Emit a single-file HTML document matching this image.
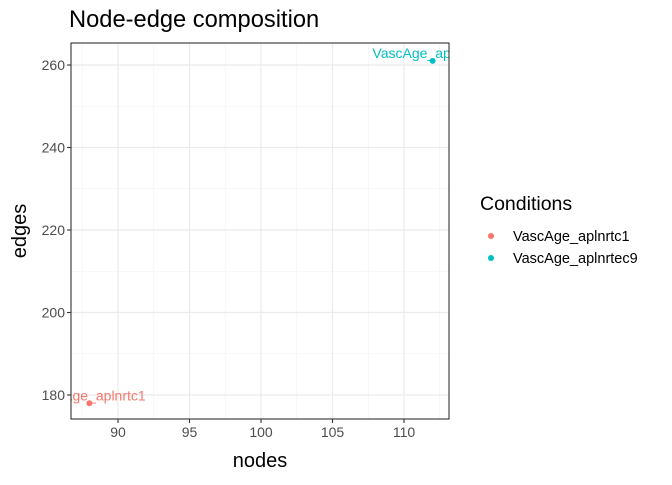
<!DOCTYPE html>
<html><head><meta charset="utf-8"><style>body{margin:0;background:#fff}svg{font-family:"Liberation Sans",sans-serif}</style></head>
<body>
<svg id="c" width="672" height="480"></svg>
<script>
const categories=["VascAge_aplnrtc1","VascAge_aplnrtec9"];
const nodesVals=[88,112];
const edgesVals=[178,261];
const colors=["#F8766D","#00BFC4"];
const xTicks=[90,95,100,105,110];
const yTicks=[180,200,220,240,260];
const xMinor=[87.5,92.5,97.5,102.5,107.5,112.5];
const yMinor=[190,210,230,250];
const L=71,R=449,T=43,B=419;
const sx=v=>118+(v-90)*(404-118)/20;
const sy=v=>395-(v-180)*(395-65)/80;
const NS="http://www.w3.org/2000/svg";
const svg=document.getElementById('c');
function mk(t,a,p){const e=document.createElementNS(NS,t);for(const k in a)e.setAttribute(k,a[k]);(p||svg).appendChild(e);return e;}
const defs=mk('defs',{});const cp=mk('clipPath',{id:'cp'},defs);mk('rect',{x:L,y:T,width:R-L,height:B-T},cp);
let e=mk('text',{x:69,y:27,'font-size':23.7,fill:'#000'});e.textContent='Node-edge composition';


const g=mk('g',{'clip-path':'url(#cp)'});
xMinor.forEach(v=>mk('line',{x1:sx(v),x2:sx(v),y1:T,y2:B,stroke:'#f2f2f2','stroke-width':0.6},g));
yMinor.forEach(v=>mk('line',{x1:L,x2:R,y1:sy(v),y2:sy(v),stroke:'#f2f2f2','stroke-width':0.6},g));
xTicks.forEach(v=>{mk('line',{x1:sx(v),x2:sx(v),y1:T,y2:B,stroke:'#ebebeb','stroke-width':1.2},g);
 mk('line',{x1:sx(v),x2:sx(v),y1:B,y2:B+4,stroke:'#333','stroke-width':1.1});
 const t=mk('text',{x:sx(v),y:B+18,'font-size':14,fill:'#4d4d4d','text-anchor':'middle'});t.textContent=v;
 
 });
yTicks.forEach(v=>{mk('line',{x1:L,x2:R,y1:sy(v),y2:sy(v),stroke:'#ebebeb','stroke-width':1.2},g);
 mk('line',{x1:L-4,x2:L,y1:sy(v),y2:sy(v),stroke:'#333','stroke-width':1.1});
 const t=mk('text',{x:L-6,y:sy(v)+5,'font-size':14,fill:'#4d4d4d','text-anchor':'end'});t.textContent=v;
 
 });
categories.forEach((c,i)=>{
 const p=mk('circle',{cx:sx(nodesVals[i]),cy:sy(edgesVals[i]),r:3,fill:colors[i]},g);
 
 
 const t=mk('text',{x:sx(nodesVals[i]),y:sy(edgesVals[i])-3,'font-size':14,fill:colors[i],'text-anchor':'middle'},g);t.textContent=c;
 
 
});
mk('rect',{x:L,y:T,width:R-L,height:B-T,fill:'none',stroke:'#333','stroke-width':1.1});
e=mk('text',{x:(L+R)/2,y:467,'font-size':20,'text-anchor':'middle'});e.textContent='nodes';


e=mk('text',{x:0,y:0,'font-size':20,'text-anchor':'middle',transform:`translate(26,${(T+B)/2}) rotate(-90)`});e.textContent='edges';


e=mk('text',{x:480,y:210,'font-size':19.5});e.textContent='Conditions';


categories.forEach((c,i)=>{
 const y=236+i*22;
 const d=mk('circle',{cx:491,cy:y,r:3,fill:colors[i]});
 
 
 const t=mk('text',{x:513,y:y+5,'font-size':14.5});t.textContent=c;
 
 
});
</script>
</body></html>
